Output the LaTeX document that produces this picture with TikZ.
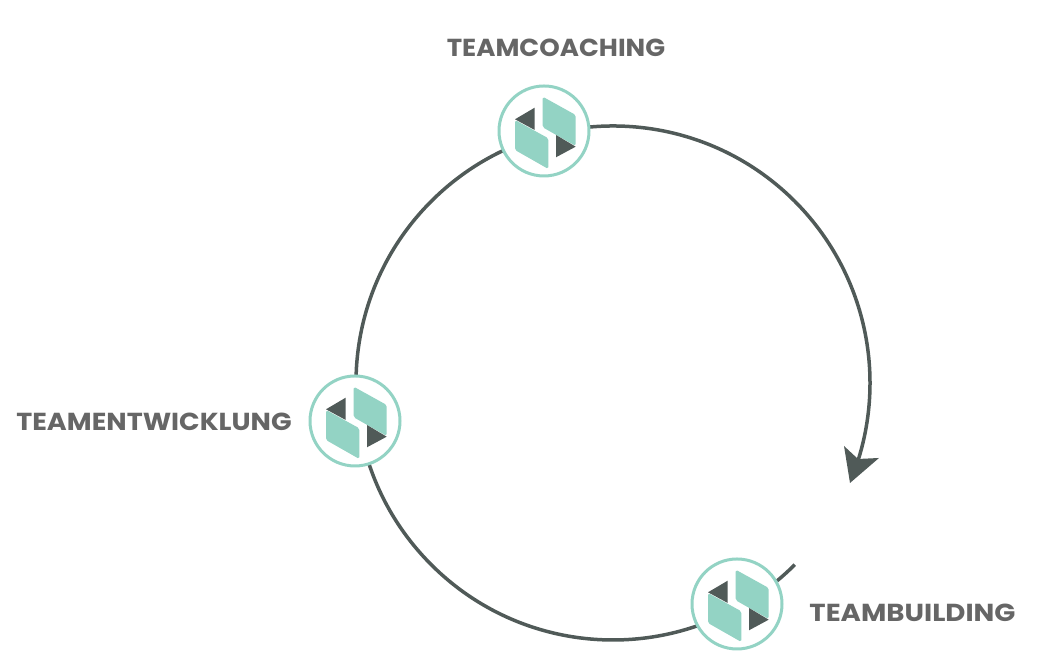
\documentclass[tikz,border=0pt]{standalone}
\usepackage{fontspec}
\setmainfont{Poppins}
\definecolor{ringTeal}{HTML}{93D3C4}
\definecolor{cycleGray}{HTML}{505A58}
\definecolor{labelGray}{HTML}{666666}
\tikzset{
    teamLogo/.pic={
		\fill[ringTeal, rounded corners=0.5pt] (-0.013,0.343) -- (0.317,0.16) -- (0.317,-0.15) -- (-0.013,0.037) -- cycle;
		\fill[ringTeal, rounded corners=0.5pt] (-0.29,0.11) -- (0.043,-0.073) -- (0.043,-0.38) -- (-0.29,-0.19) -- cycle;
		\fill[cycleGray] (-0.29,0.117) -- (-0.093,0.233) -- (-0.093,0.01) -- cycle;
		\fill[cycleGray] (0.12,-0.04) -- (0.317,-0.157) -- (0.12,-0.263) -- cycle;
	}
}
\tikzset{
    logoRing/.style={circle, draw=ringTeal, fill=white, line width=0.03cm, minimum size=0.9cm, inner sep=0pt},
    phaseLabel/.style={text=labelGray, font=\fontsize{7}{8}\selectfont\bfseries\addfontfeature{FakeStretch=#1}, inner sep=0pt}
}
\begin{document}
\begin{tikzpicture}
			\useasboundingbox (0,0) rectangle (10.42,6.68);
			\coordinate (center) at (6.13,2.85);
			\coordinate (cycleStart) at ([shift={(-45:2.57)}]center);
			% cycle line, the icons sit on top of it
			\draw[cycleGray, line width=0.035cm] (cycleStart) arc (-45:-378:2.57);
			\fill[cycleGray] (8.50,1.85) -- (8.44,2.22) -- (8.58,2.09) -- (8.79,2.10) -- cycle;
			\node[logoRing] (coaching) at (5.44,5.37) {};
			\node[logoRing] (development) at (3.55,2.47) {};
			\node[logoRing] (building) at (7.37,0.64) {};
			\pic at (coaching) {teamLogo};
			\pic at (development) {teamLogo};
			\pic at (building) {teamLogo};
			\node[phaseLabel=1.06] (coachingLabel) at (5.56,6.20) {TEAMCOACHING};
			\node[phaseLabel=1.10] (developmentLabel) at (1.54,2.46) {TEAMENTWICKLUNG};
			\node[phaseLabel=1.123] (buildingLabel) at (9.125,0.55) {TEAMBUILDING};
		\end{tikzpicture}
\end{document}
